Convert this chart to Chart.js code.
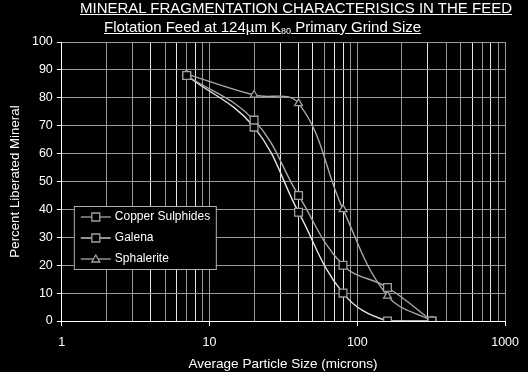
<!DOCTYPE html>
<html>
<head>
<meta charset="utf-8">
<script src="https://cdn.jsdelivr.net/npm/chart.js@4/dist/chart.umd.min.js"></script>
<style>
  body { margin: 0; background: #000; }
  #wrap { position: relative; width: 528px; height: 372px; background: #000; }
  .ttl { position: absolute; color: #fff; font-family: "Liberation Sans", Arial, sans-serif;
         text-decoration: underline; white-space: nowrap; line-height: 16px; }
  #t1 { left: 80px; top: 0px; font-size: 15px; }
  #t2 { left: 104px; top: 19px; font-size: 15px; }
  #t2 sub { font-size: 9px; vertical-align: -2px; line-height: 0; }
  canvas { position: absolute; left: 0; top: 0; }
</style>
</head>
<body>
<div id="wrap">
  <canvas id="chart" width="528" height="372"></canvas>
  <div class="ttl" id="t1">MINERAL FRAGMENTATION CHARACTERISICS IN THE FEED</div>
  <div class="ttl" id="t2">Flotation Feed at 124µm K<sub>80</sub> Primary Grind Size</div>
</div>
<script>
// particle sizes (microns) and % liberated
const sizes = [7, 20, 40, 80, 160, 320];
const copper = [88, 72, 45, 20, 12, 0];
const galena = [88, 69.5, 39, 10, 0, 0];
const sphalerite = [88.5, 81, 78, 40, 9, 0];
const seriesNames = ['Copper Sulphides', 'Galena', 'Sphalerite'];
const xTitle = 'Average Particle Size (microns)';

const xTicks = [];
[1, 10, 100].forEach(d => { for (let i = 1; i < 10; i++) xTicks.push(d * i); });
xTicks.push(1000);
const xLabels = [1, 10, 100, 1000];

function pts(ys){
    return sizes.map((x, i) => ({x: x, y: ys[i]}));
}

// gridlines in the picture are a mix of white and grey
const whiteX = [4, 6, 8, 30, 40, 50, 70, 80, 300, 600, 800];
function vColor(c){
    const v = c.tick ? c.tick.value : 0;
    if (v === 1) return '#ffffff';
    return whiteX.includes(v) ? '#e6e6e6' : '#9a9a9a';
}

const lineCols = ['#a8a8a8', '#e2e2e2', '#a8a8a8'];
const marks = ['rect', 'rect', 'triangle'];

// legend drawn inside the plot, like the excel one + x axis title
const boxLegend = {
    id: 'boxLegend',
    afterDraw(chart){
        const ctx = chart.ctx;
        const a = chart.chartArea;
        const x0 = a.left + 12, y0 = a.top + 164, w = 142, h = 63;
        ctx.save();
        ctx.fillStyle = '#000';
        ctx.fillRect(x0, y0, w, h);
        ctx.strokeStyle = '#b0b0b0';
        ctx.lineWidth = 1;
        ctx.strokeRect(x0 + 0.5, y0 + 0.5, w, h);
        ctx.font = '12px "Liberation Sans", Arial, sans-serif';
        ctx.textBaseline = 'middle';
        seriesNames.forEach((name, i) => {
            const y = y0 + 11 + i * 21;
            ctx.strokeStyle = lineCols[i];
            ctx.lineWidth = 1.3;
            ctx.beginPath();
            ctx.moveTo(x0 + 7, y);
            ctx.lineTo(x0 + 37, y);
            ctx.stroke();
            ctx.fillStyle = '#000';
            ctx.strokeStyle = '#a0a0a0';
            ctx.beginPath();
            if (marks[i] === 'rect') {
                ctx.rect(x0 + 18, y - 4, 8, 8);
            } else {
                ctx.moveTo(x0 + 22, y - 4);
                ctx.lineTo(x0 + 26, y + 3);
                ctx.lineTo(x0 + 18, y + 3);
                ctx.closePath();
            }
            ctx.fill();
            ctx.stroke();
            ctx.fillStyle = '#fff';
            ctx.fillText(name, x0 + 41, y);
        });
        ctx.font = '13.5px "Liberation Sans", Arial, sans-serif';
        ctx.textAlign = 'center';
        ctx.fillText(xTitle, 283, a.bottom + 43);
        ctx.restore();
    }
};

const sets = [copper, galena, sphalerite].map((ys, i) => ({
    label: seriesNames[i],
    data: pts(ys),
    borderColor: lineCols[i],
    borderWidth: 1.4,
    tension: 0.4,
    fill: false,
    pointStyle: marks[i],
    pointRadius: marks[i] === 'rect' ? 5.5 : 4.5,
    pointBorderColor: '#a0a0a0',
    pointBackgroundColor: '#000',
    pointBorderWidth: 1.3
}));

Chart.defaults.font.family = '"Liberation Sans", Arial, sans-serif';
Chart.defaults.font.size = 12.5;
Chart.defaults.color = '#fff';

new Chart(document.getElementById('chart'), {
    type: 'line',
    data: { datasets: sets },
    options: {
        responsive: false,
        animation: false,
        layout: { padding: { top: 42, right: 22, left: 7, bottom: 13 } },
        plugins: { legend: { display: false }, tooltip: { enabled: false } },
        scales: {
            x: {
                type: 'logarithmic',
                min: 1, max: 1000,
                afterBuildTicks: s => { s.ticks = xTicks.map(v => ({value: v})); },
                ticks: {
                    autoSkip: false, maxRotation: 0, padding: 9, color: '#fff',
                    callback: v => xLabels.includes(v) ? String(v) : ''
                },
                grid: {
                    color: vColor,
                    tickColor: c => (c.tick && xLabels.includes(c.tick.value)) ? '#ffffff' : 'rgba(0,0,0,0)',
                    tickLength: 5,
                    lineWidth: 1
                },
                border: { color: '#ffffff', width: 1 },
                title: { display: false }
            },
            y: {
                min: 0, max: 100,
                ticks: { stepSize: 10, padding: 4, color: '#fff' },
                grid: { color: '#9a9a9a', tickColor: '#ffffff', tickLength: 5 },
                border: { color: '#ffffff', width: 1 },
                title: { display: true, text: 'Percent Liberated Mineral', color: '#fff',
                         font: { size: 13.3 }, padding: { top: 0, bottom: 5 } }
            }
        }
    },
    plugins: [boxLegend]
});
</script>
</body>
</html>
